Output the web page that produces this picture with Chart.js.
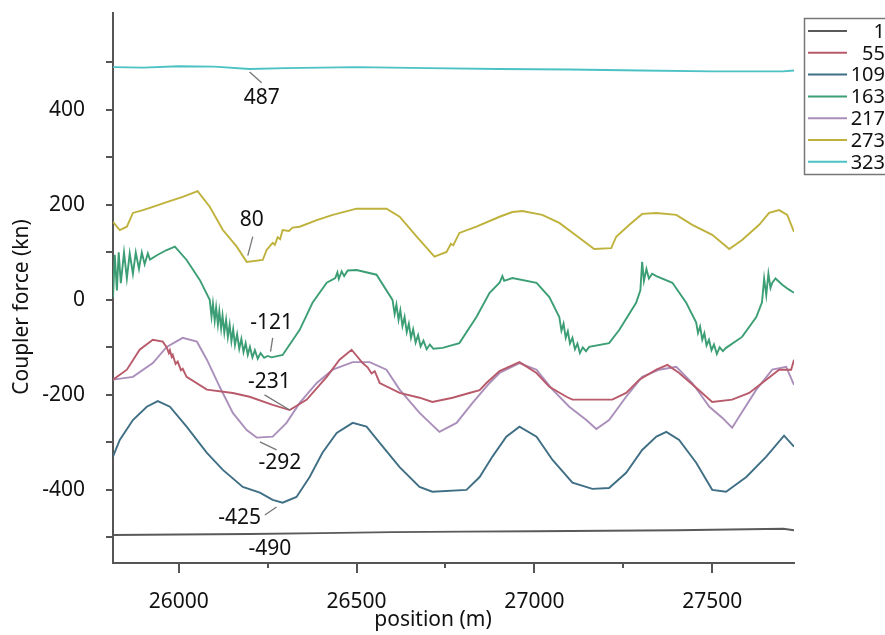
<!DOCTYPE html>
<html>
<head>
<meta charset="utf-8">
<script src="https://cdn.jsdelivr.net/npm/chart.js@4.4.1/dist/chart.umd.min.js"></script>
<style>
  html, body { margin: 0; padding: 0; background: #fff; }
  #wrap { width: 885px; height: 635px; position: relative; }
</style>
</head>
<body>
<div id="wrap"><canvas id="couplerChart"></canvas></div>
<script>
// car numbers shown in the legend
const carLabels = ["1", "55", "109", "163", "217", "273", "323"];
const carColors = ["#5a5a5a", "#b85a6a", "#3f6f85", "#3c9e74", "#ab8fbb", "#bfb23c", "#4cc2c4"];

// [position (m), coupler force (kN)]
const car1 = [[25815,-495],[26000,-494],[26200,-493],[26400,-491],[26600,-489],[26800,-488],[27000,-487],[27200,-486],[27400,-485],[27600,-483],[27700,-482],[27730,-485]];

const car55 = [[25815,-168],[25854,-147],[25890,-105],[25927,-84],[25955,-88],[25966,-100],[25972,-112],[25975,-106],[25980,-120],[25983,-116],[25991,-135],[25997,-130],[26006,-148],[26011,-145],[26022,-162],[26079,-189],[26152,-196],[26199,-204],[26264,-221],[26312,-232],[26360,-210],[26416,-162],[26452,-126],[26486,-105],[26517,-133],[26531,-142],[26542,-155],[26551,-150],[26565,-175],[26621,-196],[26677,-206],[26713,-215],[26770,-206],[26817,-196],[26846,-190],[26865,-175],[26902,-150],[26958,-131],[27006,-154],[27042,-183],[27090,-204],[27107,-210],[27219,-210],[27258,-196],[27295,-168],[27343,-147],[27374,-137],[27407,-154],[27455,-185],[27500,-215],[27556,-210],[27604,-196],[27652,-168],[27688,-147],[27722,-147],[27730,-126]];

const car109 = [[25815,-330],[25834,-295],[25871,-253],[25910,-225],[25941,-213],[25975,-225],[26022,-267],[26079,-322],[26124,-358],[26180,-394],[26228,-406],[26264,-421],[26292,-427],[26331,-415],[26368,-373],[26404,-322],[26444,-280],[26489,-259],[26528,-267],[26565,-301],[26621,-352],[26677,-394],[26713,-404],[26809,-400],[26846,-373],[26882,-330],[26921,-288],[26958,-267],[27006,-288],[27051,-337],[27107,-385],[27163,-398],[27210,-396],[27258,-364],[27303,-316],[27343,-288],[27371,-278],[27407,-295],[27455,-343],[27500,-400],[27539,-404],[27596,-373],[27652,-330],[27702,-286],[27730,-309]];

const car163 = [[25815,5],[25820,95],[25826,20],[25831,100],[25837,35],[25846,100],[25854,45],[25862,98],[25871,55],[25879,100],[25888,65],[25896,100],[25904,75],[25913,98],[25919,85],[25941,95],[25966,105],[25989,112],[26022,84],[26059,42],[26087,0],
  [26092,-35],[26096,-8],[26101,-44],[26105,-16],[26110,-52],[26114,-24],[26119,-60],[26123,-33],[26128,-69],[26133,-42],[26138,-78],[26143,-52],[26148,-87],[26153,-62],[26158,-95],[26164,-72],[26170,-103],[26176,-82],[26182,-110],[26188,-91],[26194,-116],[26200,-99],[26207,-121],[26214,-106],[26222,-124],[26230,-112],[26240,-122],[26250,-118],[26261,-121],
  [26292,-116],[26340,-63],[26376,-6],[26416,36],[26440,46],[26446,58],[26450,44],[26458,60],[26465,50],[26475,62],[26500,63],[26556,53],[26601,0],
  [26607,-30],[26612,-10],[26618,-42],[26623,-22],[26629,-55],[26635,-36],[26641,-68],[26647,-50],[26653,-80],[26659,-62],[26666,-90],[26673,-74],[26680,-98],[26688,-86],[26697,-104],[26706,-94],[26716,-103],[26742,-101],
  [26789,-91],[26837,-36],[26874,15],[26902,36],[26910,50],[26915,40],[26938,46],[27006,36],[27042,6],[27070,-36],
  [27076,-65],[27082,-50],[27088,-80],[27094,-66],[27100,-92],[27107,-80],[27114,-104],[27121,-92],[27128,-112],[27136,-100],[27145,-108],[27154,-99],
  [27210,-91],[27239,-63],[27286,-6],[27298,20],[27303,80],[27308,40],[27315,65],[27322,45],[27331,55],[27343,50],[27388,36],[27427,-6],[27455,-48],
  [27460,-70],[27466,-56],[27472,-84],[27478,-70],[27484,-96],[27491,-84],[27498,-106],[27505,-94],[27513,-114],[27521,-100],[27530,-108],[27539,-101],
  [27584,-78],[27624,-36],[27640,-5],[27646,45],[27652,10],[27658,55],[27664,25],[27669,36],[27678,45],[27697,32],[27715,22],[27730,15]];

const car217 = [[25815,-168],[25871,-162],[25927,-133],[25966,-99],[26011,-80],[26051,-88],[26079,-126],[26115,-183],[26152,-238],[26191,-274],[26219,-290],[26264,-288],[26303,-259],[26340,-217],[26388,-175],[26433,-147],[26489,-131],[26537,-131],[26584,-147],[26621,-189],[26677,-238],[26733,-278],[26781,-259],[26826,-217],[26874,-175],[26902,-154],[26958,-133],[27006,-147],[27051,-189],[27098,-225],[27146,-253],[27174,-272],[27210,-253],[27258,-204],[27303,-162],[27351,-147],[27399,-141],[27444,-175],[27492,-225],[27528,-248],[27556,-269],[27584,-236],[27624,-189],[27669,-147],[27708,-141],[27730,-179]];

const car273 = [[25815,164],[25834,147],[25854,154],[25871,183],[25899,189],[25927,196],[25966,206],[26011,217],[26053,229],[26087,196],[26124,147],[26163,112],[26191,80],[26236,84],[26247,105],[26264,120],[26270,116],[26278,132],[26285,128],[26292,147],[26310,145],[26320,152],[26340,154],[26388,168],[26433,179],[26500,192],[26584,192],[26621,175],[26669,133],[26719,91],[26753,101],[26765,118],[26772,115],[26789,141],[26837,154],[26902,175],[26938,185],[26966,187],[27022,179],[27070,162],[27126,131],[27168,107],[27216,109],[27230,133],[27267,158],[27303,181],[27343,183],[27399,179],[27444,158],[27500,137],[27548,107],[27584,126],[27632,158],[27660,183],[27688,189],[27711,179],[27730,143]];

const car323 = [[25815,490],[25900,489],[26000,492],[26100,491],[26199,486],[26300,488],[26500,490],[26700,488],[26900,486],[27100,485],[27300,483],[27500,481],[27700,481],[27730,483]];

const carSeries = [car1, car55, car109, car163, car217, car273, car323];

// value callouts: text, label centre and leader line, in data units
const calloutText = ["487", "80", "-121", "-231", "-292", "-425", "-490"];
const calloutAt = [[26233,425],[26205,168],[26261,-48],[26255,-173],[26284,-343],[26171,-459],[26256,-524]];
const calloutLine = [[26199,480,26233,457],[26208,133,26194,93],[26264,-80,26258,-109],[26241,-200,26312,-232],[26228,-299,26275,-316],[26242,-453,26275,-436],null];

const xTicks = [26000, 26250, 26500, 26750, 27000, 27250, 27500];
const yTicks = [-500, -400, -300, -200, -100, 0, 100, 200, 300, 400, 500];

const FONT = "'Noto Sans', 'Open Sans', sans-serif";

const decorPlugin = {
    id: "decor",
    afterDraw(chart) {
        const ctx = chart.ctx;
        const xs = chart.scales.x, ys = chart.scales.y;
        const area = chart.chartArea;
        ctx.save();

        // tick marks outside the axes
        ctx.strokeStyle = "#555";
        ctx.lineWidth = 2;
        xTicks.forEach(v => {
            const px = Math.round(xs.getPixelForValue(v));
            const len = v % 500 === 0 ? 10 : 5;
            ctx.beginPath();
            ctx.moveTo(px, area.bottom);
            ctx.lineTo(px, area.bottom + len);
            ctx.stroke();
        });
        yTicks.forEach(v => {
            const py = Math.round(ys.getPixelForValue(v));
            ctx.beginPath();
            ctx.moveTo(area.left, py);
            ctx.lineTo(area.left - 7, py);
            ctx.stroke();
        });

        // axis titles
        ctx.fillStyle = "#111";
        ctx.font = "21px " + FONT;
        ctx.textAlign = "center";
        ctx.textBaseline = "middle";
        ctx.fillText("position (m)", 433, 620);
        ctx.save();
        ctx.translate(22, 307);
        ctx.rotate(-Math.PI / 2);
        ctx.fillText("Coupler force (kn)", 0, 0);
        ctx.restore();

        // callouts
        ctx.strokeStyle = "#777";
        ctx.lineWidth = 1.3;
        calloutLine.forEach(l => {
            if (!l) return;
            ctx.beginPath();
            ctx.moveTo(xs.getPixelForValue(l[0]), ys.getPixelForValue(l[1]));
            ctx.lineTo(xs.getPixelForValue(l[2]), ys.getPixelForValue(l[3]));
            ctx.stroke();
        });
        ctx.fillStyle = "#111";
        ctx.font = "21px " + FONT;
        calloutText.forEach((t, i) => {
            ctx.fillText(t, xs.getPixelForValue(calloutAt[i][0]), ys.getPixelForValue(calloutAt[i][1]));
        });

        // legend box, runs off the right edge like the original
        ctx.strokeStyle = "#777";
        ctx.lineWidth = 1.5;
        ctx.strokeRect(804.5, 18.5, 100, 156);
        ctx.font = "20px " + FONT;
        ctx.textAlign = "right";
        carLabels.forEach((name, i) => {
            const y = 31 + i * 21.8;
            ctx.strokeStyle = carColors[i];
            ctx.lineWidth = 2;
            ctx.beginPath();
            ctx.moveTo(808, y);
            ctx.lineTo(847, y);
            ctx.stroke();
            ctx.fillStyle = "#111";
            ctx.fillText(name, 885, y + 1);
        });
        ctx.restore();
    }
};

document.addEventListener("DOMContentLoaded", () => {
    const ctx = document.getElementById("couplerChart").getContext("2d");
    new Chart(ctx, {
        type: "line",
        data: {
            datasets: carSeries.map((s, i) => ({
                label: carLabels[i],
                data: s.map(p => ({ x: p[0], y: p[1] })),
                borderColor: carColors[i],
                borderWidth: 1.9,
                pointRadius: 0,
                tension: 0,
                fill: false
            }))
        },
        options: {
            responsive: true,
            maintainAspectRatio: false,
            animation: false,
            layout: { padding: { top: 13, right: 91, left: 0, bottom: 0 } },
            plugins: {
                legend: { display: false },
                tooltip: { enabled: false }
            },
            scales: {
                x: {
                    type: "linear",
                    min: 25815,
                    max: 27730,
                    afterBuildTicks: scale => { scale.ticks = xTicks.map(v => ({ value: v })); },
                    afterFit: scale => {
                        scale.height = 72;
                        scale.paddingLeft = 0;
                        scale.paddingRight = 0;
                    },
                    grid: { display: false },
                    border: { display: true, color: "#555", width: 2 },
                    ticks: {
                        autoSkip: false,
                        maxRotation: 0,
                        padding: 18,
                        color: "#111",
                        font: { family: FONT, size: 21 },
                        callback: v => (v % 500 === 0 ? String(v) : "")
                    }
                },
                y: {
                    min: -554,
                    max: 604,
                    afterBuildTicks: scale => { scale.ticks = yTicks.map(v => ({ value: v })); },
                    afterFit: scale => {
                        scale.width = 113;
                        scale.paddingTop = 0;
                        scale.paddingBottom = 0;
                    },
                    grid: { display: false },
                    border: { display: true, color: "#555", width: 2 },
                    ticks: {
                        autoSkip: false,
                        padding: 20,
                        color: "#111",
                        font: { family: FONT, size: 21 },
                        callback: v => (v % 200 === 0 ? String(v) : "")
                    }
                }
            }
        },
        plugins: [decorPlugin]
    });
});
</script>
</body>
</html>
